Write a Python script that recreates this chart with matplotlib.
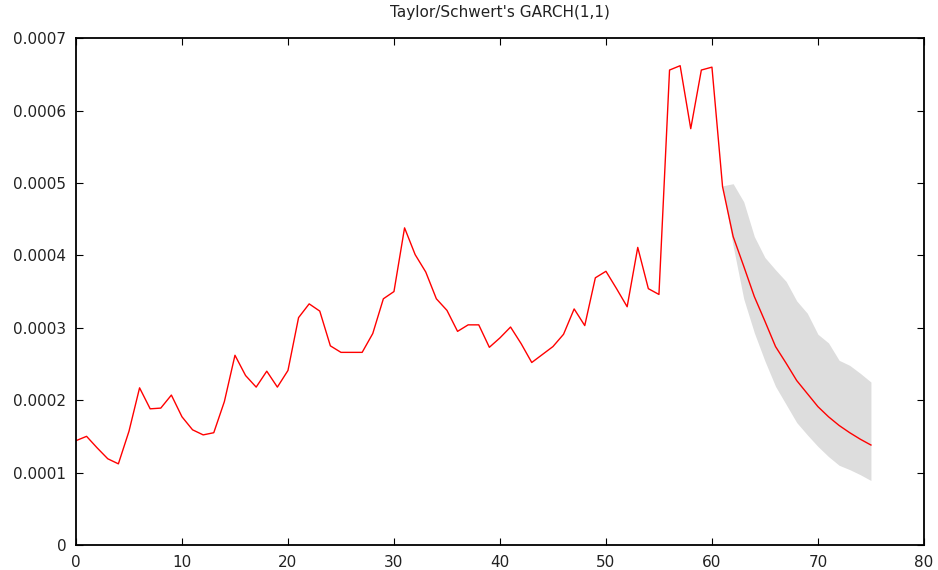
import matplotlib.pyplot as plt
import numpy as np
from matplotlib.ticker import FuncFormatter

# conditional variance, t = 0..75 (values in 1e-4)
variance = [1.44, 1.50, 1.34, 1.19, 1.12, 1.57, 2.17, 1.88, 1.89, 2.07,
            1.77, 1.59, 1.52, 1.55, 1.98, 2.62, 2.34, 2.18, 2.40, 2.18,
            2.41, 3.14, 3.33, 3.23, 2.75, 2.66, 2.66, 2.66, 2.92, 3.40,
            3.50, 4.38, 4.01, 3.77, 3.40, 3.24, 2.95, 3.04, 3.04, 2.73,
            2.86, 3.01, 2.78, 2.52, 2.63, 2.74, 2.91, 3.26, 3.03, 3.69,
            3.78, 3.54, 3.29, 4.11, 3.54, 3.46, 6.56, 6.62, 5.75, 6.56,
            6.60, 4.95, 4.26, 3.85, 3.43, 3.09, 2.74, 2.51, 2.27, 2.09,
            1.91, 1.77, 1.65, 1.55, 1.46, 1.38]

# forecast band, t = 61..75 (values in 1e-4)
band_t = list(range(61, 76))
band_upper = [4.96, 4.99, 4.74, 4.26, 3.97, 3.80, 3.64, 3.37, 3.20, 2.91,
              2.79, 2.55, 2.48, 2.37, 2.25]
band_lower = [4.95, 4.13, 3.40, 2.93, 2.54, 2.19, 1.94, 1.69, 1.52, 1.36,
              1.22, 1.10, 1.04, 0.97, 0.89]

t = np.arange(len(variance))
y = np.array(variance) * 1e-4

fig = plt.figure(figsize=(9.38, 5.70), dpi=100)
ax = fig.add_axes([0.081, 0.044, 0.904, 0.889])

ax.fill_between(band_t, np.array(band_lower) * 1e-4, np.array(band_upper) * 1e-4,
                color='#dddddd', linewidth=0)
ax.plot(t, y, color='red', linewidth=1)

ax.set_xlim(0, 80)
ax.set_ylim(0, 0.0007)
ax.set_xticks(range(0, 81, 10))
ax.set_yticks(np.arange(0, 0.00071, 0.0001))
ax.yaxis.set_major_formatter(FuncFormatter(lambda v, p: '0' if abs(v) < 1e-12 else f'{v:.4f}'))
ax.tick_params(direction='in', length=5, top=True, right=True, labelsize=11,
               labelcolor='#222222', pad=7)
for s in ax.spines.values():
    s.set_linewidth(1.3)

ax.set_title("Taylor/Schwert's GARCH(1,1)", fontsize=11, pad=15, color='#222222')

fig.savefig('out.png')
